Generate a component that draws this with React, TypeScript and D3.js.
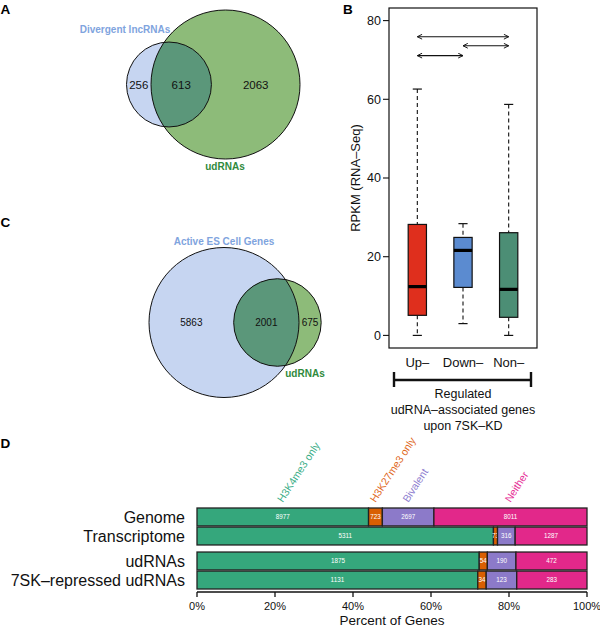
import React from 'react';
import * as d3 from 'd3';

// ---------- Panel A / C: Venn counts ----------
const vennALabels = ['Divergent lncRNAs', 'udRNAs'];
const vennACounts = [256, 613, 2063]; // left only, both, right only
const vennCLabels = ['Active ES Cell Genes', 'udRNAs'];
const vennCCounts = [5863, 2001, 675];

// ---------- Panel B: boxplot ----------
const boxGroups = ['Up\u2013', 'Down\u2013', 'Non\u2013'];
const boxLow = [0, 3.0, 0];
const boxQ1 = [5.1, 12.2, 4.6];
const boxMedian = [12.4, 21.6, 11.7];
const boxQ3 = [28.2, 24.9, 26.1];
const boxHigh = [62.6, 28.4, 58.7];
const boxYTicks = [0, 20, 40, 60, 80];
const arrowFrom = [0, 1, 0];
const arrowTo = [2, 2, 1];
const arrowLevel = [75.9, 73.6, 71.1];
const yAxisTitle = 'RPKM (RNA\u2013Seq)';
const bracketLines = ['Regulated', 'udRNA\u2013associated genes', 'upon 7SK\u2013KD'];

// ---------- Panel D: stacked percent bars ----------
const rowNames = ['Genome', 'Transcriptome', 'udRNAs', '7SK\u2013repressed udRNAs'];
const rowGroup = [0, 0, 1, 1];
const markNames = ['H3K4me3 only', 'H3K27me3 only', 'Bivalent', 'Neither'];
const genomeCounts = [8977, 723, 2697, 8011];
const transcriptomeCounts = [5311, 73, 316, 1287];
const udrnaCounts = [1875, 54, 190, 472];
const repressedCounts = [1131, 34, 123, 283];
const pctTicks = [0, 0.2, 0.4, 0.6, 0.8, 1];

const FONT = "'Liberation Sans', Arial, Helvetica, sans-serif";
const segColors = ['#35a77c', '#d95f02', '#8c7ac9', '#e2288a'];
const segTextColors = ['#36ac85', '#e0661a', '#8f80d0', '#e62e96'];
const boxColors = ['#df2f1d', '#5b8bd0', '#4c8e75'];
const lightBlue = '#c6d5f1';
const vennGreen = '#8dbb79';
const overlapGreen = '#5b977a';

function overlapArea(r1: number, r2: number, d: number) {
  if (d >= r1 + r2) return 0;
  if (d <= Math.abs(r1 - r2)) return Math.PI * Math.min(r1, r2) ** 2;
  const a = r1 * r1 * Math.acos((d * d + r1 * r1 - r2 * r2) / (2 * d * r1));
  const b = r2 * r2 * Math.acos((d * d + r2 * r2 - r1 * r1) / (2 * d * r2));
  const c = 0.5 * Math.sqrt((-d + r1 + r2) * (d + r1 - r2) * (d - r1 + r2) * (d + r1 + r2));
  return a + b - c;
}
function solveDistance(r1: number, r2: number, target: number) {
  let lo = Math.abs(r1 - r2), hi = r1 + r2;
  for (let i = 0; i < 60; i++) {
    const mid = (lo + hi) / 2;
    if (overlapArea(r1, r2, mid) > target) lo = mid; else hi = mid;
  }
  return (lo + hi) / 2;
}

type VennProps = {
  id: string;
  counts: number[];
  labels: string[];
  maxR: number;
  anchorX: number; // x of the larger circle's centre
  cy: number;
  numSize: number;
  leftLabel: [number, number];
  rightLabel: [number, number];
};

function Venn({ id, counts, labels, maxR, anchorX, cy, numSize, leftLabel, rightLabel }: VennProps) {
  const leftSize = counts[0] + counts[1];
  const rightSize = counts[1] + counts[2];
  const r = d3.scaleSqrt().domain([0, Math.max(leftSize, rightSize)]).range([0, maxR]);
  const r1 = r(leftSize);
  const r2 = r(rightSize);
  const target = (counts[1] / leftSize) * Math.PI * r1 * r1;
  const d = solveDistance(r1, r2, target);
  let cx1: number, cx2: number;
  if (rightSize >= leftSize) { cx2 = anchorX; cx1 = anchorX - d; } else { cx1 = anchorX; cx2 = anchorX + d; }
  const lEdge = cx1 - r1, lRight = cx1 + r1, rLeft = cx2 - r2, rEdge = cx2 + r2;
  const xs = [(lEdge + rLeft) / 2, (rLeft + lRight) / 2, (lRight + rEdge) / 2];
  return (
    <g>
      <defs>
        <clipPath id={id + '-clip'}>
          <circle cx={cx1} cy={cy} r={r1} />
        </clipPath>
      </defs>
      <circle cx={cx1} cy={cy} r={r1} fill={lightBlue} />
      <circle cx={cx2} cy={cy} r={r2} fill={vennGreen} />
      <circle cx={cx2} cy={cy} r={r2} fill={overlapGreen} clipPath={`url(#${id}-clip)`} />
      <circle cx={cx1} cy={cy} r={r1} fill="none" stroke="#111" strokeWidth={1} />
      <circle cx={cx2} cy={cy} r={r2} fill="none" stroke="#111" strokeWidth={1} />
      {counts.map((c, i) => (
        <text key={i} x={xs[i]} y={cy} dy="0.35em" textAnchor="middle" fontSize={numSize} fill="#111">{c}</text>
      ))}
      <text x={leftLabel[0]} y={leftLabel[1]} textAnchor="middle" fontSize={10} fontWeight="bold" fill="#7fa4de">{labels[0]}</text>
      <text x={rightLabel[0]} y={rightLabel[1]} textAnchor="middle" fontSize={10} fontWeight="bold" fill="#2f8a3c">{labels[1]}</text>
    </g>
  );
}

function BoxPanel() {
  const left = 389, right = 537, top = 8, bottom = 348;
  const x = d3.scaleLinear().domain([0.38, 3.62]).range([left, right]);
  const y = d3.scaleLinear().domain([-3.2, 83.2]).range([bottom, top]);
  const bw = x(1.4) - x(1);
  const cap = bw / 2;
  return (
    <g>
      <defs>
        <marker id="arrowHead" viewBox="0 0 10 10" refX="9" refY="5" markerWidth="6" markerHeight="6" orient="auto-start-reverse" markerUnits="userSpaceOnUse">
          <path d="M1,1 L9,5 L1,9" fill="none" stroke="#111" strokeWidth={1.6} />
        </marker>
      </defs>
      {boxGroups.map((g, i) => {
        const cx = x(i + 1);
        return (
          <g key={g}>
            <line x1={cx} x2={cx} y1={y(boxHigh[i])} y2={y(boxQ3[i])} stroke="#111" strokeWidth={1.1} strokeDasharray="4,3" />
            <line x1={cx} x2={cx} y1={y(boxQ1[i])} y2={y(boxLow[i])} stroke="#111" strokeWidth={1.1} strokeDasharray="4,3" />
            <line x1={cx - cap / 2} x2={cx + cap / 2} y1={y(boxHigh[i])} y2={y(boxHigh[i])} stroke="#111" strokeWidth={1.2} />
            <line x1={cx - cap / 2} x2={cx + cap / 2} y1={y(boxLow[i])} y2={y(boxLow[i])} stroke="#111" strokeWidth={1.2} />
            <rect x={cx - bw / 2} y={y(boxQ3[i])} width={bw} height={y(boxQ1[i]) - y(boxQ3[i])} fill={boxColors[i]} stroke="#111" strokeWidth={1.2} />
            <line x1={cx - bw / 2} x2={cx + bw / 2} y1={y(boxMedian[i])} y2={y(boxMedian[i])} stroke="#000" strokeWidth={3.2} />
            <text x={cx} y={367} textAnchor="middle" fontSize={13} fill="#111">{g}</text>
          </g>
        );
      })}
      {arrowLevel.map((lv, i) => (
        <line key={i} x1={x(arrowFrom[i] + 1)} x2={x(arrowTo[i] + 1)} y1={y(lv)} y2={y(lv)} stroke="#111" strokeWidth={1.1}
          markerStart="url(#arrowHead)" markerEnd="url(#arrowHead)" />
      ))}
      <rect x={left} y={top} width={right - left} height={bottom - top} fill="none" stroke="#111" strokeWidth={1.2} />
      {boxYTicks.map(t => (
        <g key={t}>
          <line x1={left - 6} x2={left} y1={y(t)} y2={y(t)} stroke="#111" strokeWidth={1.1} />
          <text x={left - 8} y={y(t)} dy="0.35em" textAnchor="end" fontSize={12.5} fill="#111">{t}</text>
        </g>
      ))}
      <text transform={`translate(360,${(top + bottom) / 2}) rotate(-90)`} textAnchor="middle" fontSize={13} fill="#111">{yAxisTitle}</text>
      {/* bracket */}
      <line x1={394} x2={531} y1={380} y2={380} stroke="#111" strokeWidth={2.4} />
      <line x1={394} x2={394} y1={372} y2={387} stroke="#111" strokeWidth={2.4} />
      <line x1={531} x2={531} y1={372} y2={387} stroke="#111" strokeWidth={2.4} />
      {bracketLines.map((t, i) => (
        <text key={i} x={463} y={398 + i * 16} textAnchor="middle" fontSize={12.5} fill="#111">{t}</text>
      ))}
    </g>
  );
}

function BarPanel() {
  const rows = [genomeCounts, transcriptomeCounts, udrnaCounts, repressedCounts];
  const x = d3.scaleLinear().domain([0, 1]).range([197, 587]);
  const yGroup = d3.scaleBand<number>().domain([0, 1]).range([508, 589]).paddingInner(0.16);
  const yInner = d3.scaleBand<number>().domain([0, 1]).range([0, yGroup.bandwidth()]).paddingInner(0.06);
  const stackRows = rows.map((counts, ri) => {
    const total = d3.sum(counts);
    const cum = d3.cumsum(counts);
    const inGroup = rowGroup.slice(0, ri).filter(g => g === rowGroup[ri]).length;
    const y0 = (yGroup(rowGroup[ri]) as number) + (yInner(inGroup) as number);
    return counts.map((c, si) => ({ c, x0: (cum[si] - c) / total, x1: cum[si] / total, y0, si, ri }));
  });
  const h = yInner.bandwidth();
  const axisY = 592;
  return (
    <g>
      {stackRows.map((segs, ri) => (
        <g key={ri}>
          <text x={185} y={segs[0].y0 + h / 2} dy="0.35em" textAnchor="end" fontSize={16} fill="#111">{rowNames[ri]}</text>
          {segs.map(s => (
            <g key={s.si}>
              <rect x={x(s.x0)} y={s.y0} width={x(s.x1) - x(s.x0)} height={h} fill={segColors[s.si]} stroke="#222" strokeWidth={1.3} />
              <text x={(x(s.x0) + x(s.x1)) / 2} y={s.y0 + h / 2} dy="0.35em" textAnchor="middle" fontSize={6.3} fill="#fff">{s.c}</text>
            </g>
          ))}
        </g>
      ))}
      {stackRows[0].map(s => {
        const mx = (x(s.x0) + x(s.x1)) / 2;
        return (
          <text key={s.si} transform={`translate(${mx},${s.y0 - 5}) rotate(-57)`} textAnchor="start" fontSize={10.5} fill={segTextColors[s.si]}>{markNames[s.si]}</text>
        );
      })}
      <line x1={x(0)} x2={x(1)} y1={axisY} y2={axisY} stroke="#111" strokeWidth={1.3} />
      {pctTicks.map(t => (
        <g key={t}>
          <line x1={x(t)} x2={x(t)} y1={axisY} y2={axisY + 5} stroke="#111" strokeWidth={1.3} />
          <text x={x(t)} y={610} textAnchor="middle" fontSize={11} fill="#111">{d3.format('.0%')(t)}</text>
        </g>
      ))}
      <text x={(x(0) + x(1)) / 2} y={625} textAnchor="middle" fontSize={13.5} fill="#111">Percent of Genes</text>
    </g>
  );
}

export default function App() {
  return (
    <svg width={600} height={628} style={{ position: 'absolute', left: 0, top: 0, background: '#fff' }} fontFamily={FONT}>
      <rect width={600} height={628} fill="#fff" />
      <text x={0.5} y={13.5} fontSize={13.5} fontWeight="bold">A</text>
      <text x={343} y={13.5} fontSize={13.5} fontWeight="bold">B</text>
      <text x={0.5} y={226.5} fontSize={13.5} fontWeight="bold">C</text>
      <text x={0.5} y={448} fontSize={13.5} fontWeight="bold">D</text>
      <Venn id="vA" counts={vennACounts} labels={vennALabels} maxR={74.5} anchorX={225.5} cy={84.5} numSize={11.5}
        leftLabel={[125, 33]} rightLabel={[225, 169.5]} />
      <Venn id="vC" counts={vennCCounts} labels={vennCLabels} maxR={75} anchorX={224} cy={322.5} numSize={10}
        leftLabel={[224, 244.5]} rightLabel={[305, 376.5]} />
      <BoxPanel />
      <BarPanel />
    </svg>
  );
}
